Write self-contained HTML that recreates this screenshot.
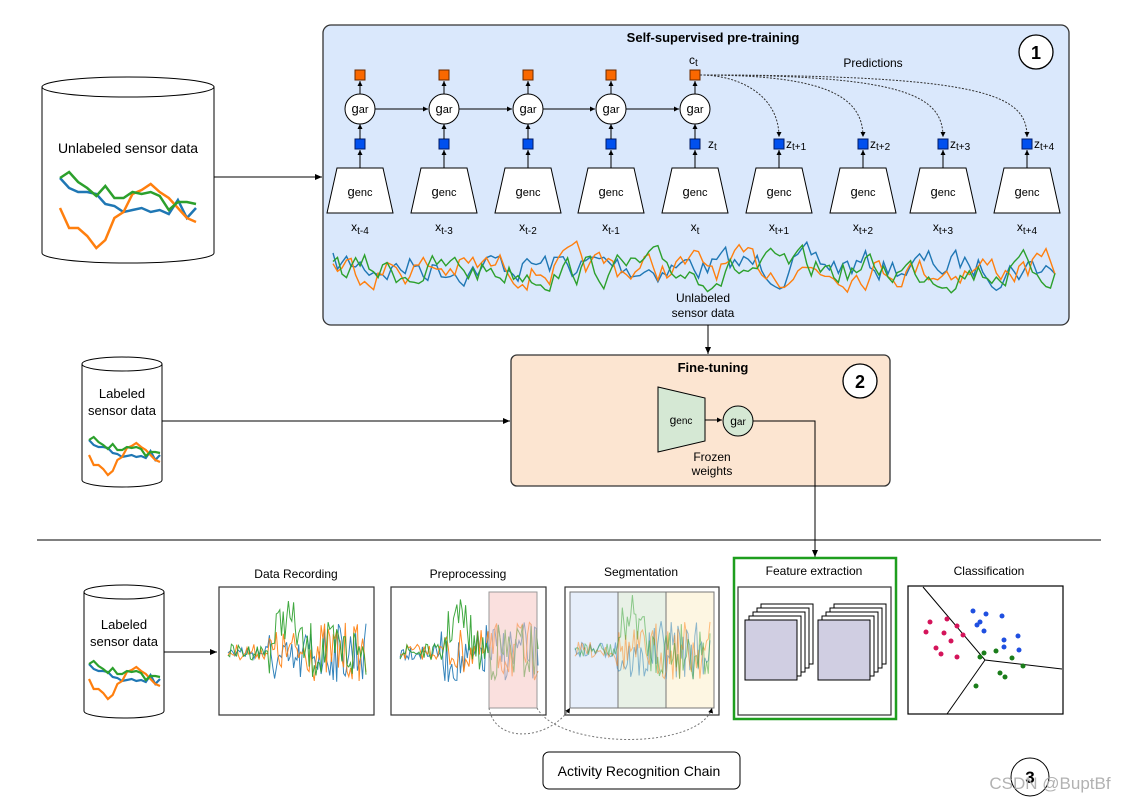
<!DOCTYPE html>
<html><head><meta charset="utf-8"><style>
body{margin:0;background:#fff}
svg{display:block;font-family:"Liberation Sans",Arial,sans-serif}
</style></head><body>
<svg id="s" width="1131" height="803" viewBox="0 0 1131 803" xmlns="http://www.w3.org/2000/svg">
<defs>
<marker id="a" markerWidth="8" markerHeight="8" refX="7" refY="4" orient="auto" markerUnits="userSpaceOnUse"><path d="M0,1 L7,4 L0,7 z" fill="#000"/></marker>
<marker id="as" markerWidth="6" markerHeight="6" refX="5" refY="3" orient="auto" markerUnits="userSpaceOnUse"><path d="M0,0.5 L5,3 L0,5.5 z" fill="#000"/></marker>
</defs>
<rect x="0" y="0" width="1131" height="803" fill="#fff"/>
<!-- top panel -->
<rect x="323" y="25" width="746" height="300" rx="8" fill="#dae8fc" stroke="#333" stroke-width="1.3"/>
<text x="713" y="42" font-size="13" font-weight="bold" text-anchor="middle">Self-supervised pre-training</text>
<circle cx="1036" cy="52" r="17" fill="#fff" stroke="#000" stroke-width="1.3"/>
<text x="1036" y="59" font-size="18" font-weight="bold" text-anchor="middle">1</text>
<text x="873" y="67" font-size="12" text-anchor="middle">Predictions</text>
<g id="top"></g>
<g id="wave1"></g>
<text x="703" y="302" font-size="12" text-anchor="middle">Unlabeled</text>
<text x="703" y="317" font-size="12" text-anchor="middle">sensor data</text>
<!-- left cylinder -->
<path d="M42,87 L42,253 A86,10 0 0 0 214,253 L214,87" fill="#fff" stroke="#000"/>
<ellipse cx="128" cy="87" rx="86" ry="10" fill="#fff" stroke="#000"/>
<text x="128" y="153" font-size="14" text-anchor="middle">Unlabeled sensor data</text>
<g id="cyl1"></g>
<line x1="214" y1="177" x2="322" y2="177" stroke="#000" marker-end="url(#a)"/>
<line x1="708" y1="325" x2="708" y2="354" stroke="#000" marker-end="url(#a)"/>
<!-- fine tuning -->
<rect x="511" y="355" width="379" height="131" rx="6" fill="#fce5d1" stroke="#333" stroke-width="1.3"/>
<text x="713" y="372" font-size="13" font-weight="bold" text-anchor="middle">Fine-tuning</text>
<circle cx="860" cy="381" r="17" fill="#fff" stroke="#000" stroke-width="1.3"/>
<text x="860" y="388" font-size="18" font-weight="bold" text-anchor="middle">2</text>
<path d="M658,387 L705,398 L705,441 L658,452 z" fill="#d5e8d4" stroke="#000"/>
<text x="681" y="424" font-size="12" text-anchor="middle">g<tspan font-size="10">enc</tspan></text>
<line x1="705" y1="420" x2="722" y2="420" stroke="#000" marker-end="url(#as)"/>
<circle cx="738" cy="421" r="15" fill="#d5e8d4" stroke="#000"/>
<text x="738" y="425" font-size="12" text-anchor="middle">g<tspan font-size="10">ar</tspan></text>
<text x="712" y="461" font-size="12" text-anchor="middle">Frozen</text>
<text x="712" y="475" font-size="12" text-anchor="middle">weights</text>
<polyline points="753,421 815,421 815,557" fill="none" stroke="#000" marker-end="url(#a)"/>
<!-- labeled cyl 2 -->
<path d="M82,364 L82,480 A40,7 0 0 0 162,480 L162,364" fill="#fff" stroke="#000"/>
<ellipse cx="122" cy="364" rx="40" ry="7" fill="#fff" stroke="#000"/>
<text x="122" y="398" font-size="13" text-anchor="middle">Labeled</text>
<text x="122" y="415" font-size="13" text-anchor="middle">sensor data</text>
<g id="cyl2"></g>
<line x1="162" y1="421" x2="510" y2="421" stroke="#000" marker-end="url(#a)"/>
<line x1="37" y1="540" x2="1101" y2="540" stroke="#000"/>
<!-- bottom -->
<path d="M84,592 L84,711 A40,7 0 0 0 164,711 L164,592" fill="#fff" stroke="#000"/>
<ellipse cx="124" cy="592" rx="40" ry="7" fill="#fff" stroke="#000"/>
<text x="124" y="629" font-size="13" text-anchor="middle">Labeled</text>
<text x="124" y="646" font-size="13" text-anchor="middle">sensor data</text>
<g id="cyl3"></g>
<line x1="164" y1="652" x2="217" y2="652" stroke="#000" marker-end="url(#a)"/>
<text x="296" y="578" font-size="12" text-anchor="middle">Data Recording</text>
<rect x="219" y="587" width="155" height="128" fill="#fff" stroke="#333" stroke-width="1.2"/>
<g id="dr"></g>
<text x="468" y="578" font-size="12" text-anchor="middle">Preprocessing</text>
<rect x="391" y="587" width="155" height="128" fill="#fff" stroke="#333" stroke-width="1.2"/>
<g id="pp"></g>
<rect x="489" y="592" width="48" height="116" fill="#f5c6c3" fill-opacity="0.55" stroke="#999"/>
<text x="641" y="576" font-size="12" text-anchor="middle">Segmentation</text>
<rect x="565" y="587" width="154" height="128" fill="#fff" stroke="#333" stroke-width="1.2"/>
<rect x="570" y="592" width="48" height="116" fill="#e6eefa" stroke="#777"/>
<rect x="618" y="592" width="48" height="116" fill="#e8f1e6" stroke="#777"/>
<rect x="666" y="592" width="48" height="116" fill="#fdf6e2" stroke="#777"/>
<g id="sg"></g>
<path d="M489,708 C495,745 550,740 570,708" fill="none" stroke="#777" stroke-dasharray="2,2" marker-end="url(#as)"/>
<path d="M537,708 C560,750 700,750 712,708" fill="none" stroke="#777" stroke-dasharray="2,2" marker-end="url(#as)"/>
<rect x="734" y="558" width="162" height="161" fill="#fff" stroke="#1e9e1e" stroke-width="2.5"/>
<text x="814" y="575" font-size="12" text-anchor="middle">Feature extraction</text>
<rect x="738" y="587" width="153" height="128" fill="#fff" stroke="#333" stroke-width="1.2"/>
<g id="fe"></g>
<text x="989" y="575" font-size="12" text-anchor="middle">Classification</text>
<rect x="908" y="586" width="155" height="128" fill="#fff" stroke="#000" stroke-width="1.2"/>
<polyline points="923,587 985,660 1062,669" fill="none" stroke="#000"/>
<line x1="985" y1="660" x2="947" y2="714" stroke="#000"/>
<g id="cl"></g>
<rect x="543" y="752" width="197" height="37" rx="6" fill="#fff" stroke="#000"/>
<text x="639" y="776" font-size="14" text-anchor="middle">Activity Recognition Chain</text>
<circle cx="1030" cy="777" r="19" fill="#fff" stroke="#000"/>
<text x="1030" y="783" font-size="17" font-weight="bold" text-anchor="middle">3</text>
<text x="1050" y="789" font-size="17" fill="#aaa" text-anchor="middle" opacity="0.9">CSDN @BuptBf</text>
</svg>
<script>
var NS="http://www.w3.org/2000/svg";
function el(p,t,a,txt){var e=document.createElementNS(NS,t);for(var k in a)e.setAttribute(k,a[k]);if(txt)e.textContent=txt;document.getElementById(p).appendChild(e);return e;}
var seed=7;function rnd(){seed=(seed*16807)%2147483647;return seed/2147483647;}
var xs=[360,444,528,611,695,779,863,943,1027];
var lbl=["t-4","t-3","t-2","t-1","t","t+1","t+2","t+3","t+4"];
xs.forEach(function(x,i){
 el("top","path",{d:"M"+(x-23)+",168 L"+(x+23)+",168 L"+(x+33)+",213 L"+(x-33)+",213 z",fill:"#fff",stroke:"#000"});
 var t=el("top","text",{x:x,y:196,"font-size":13,"text-anchor":"middle"});t.innerHTML='g<tspan font-size="11">enc</tspan>';
 var t2=el("top","text",{x:x,y:231,"font-size":12,"text-anchor":"middle"});t2.innerHTML='x<tspan font-size="10" dy="3">'+lbl[i]+'</tspan>';
 el("top","line",{x1:x,y1:168,x2:x,y2:150,stroke:"#000","marker-end":"url(#as)"});
 el("top","rect",{x:x-5,y:139,width:10,height:10,fill:"#0050ef",stroke:"#001a66"});
 if(i<5){
  el("top","line",{x1:x,y1:139,x2:x,y2:124,stroke:"#000","marker-end":"url(#as)"});
  el("top","circle",{cx:x,cy:109,r:15,fill:"#fff",stroke:"#000"});
  var g=el("top","text",{x:x,y:113,"font-size":13,"text-anchor":"middle"});g.innerHTML='g<tspan font-size="11">ar</tspan>';
  el("top","line",{x1:x,y1:94,x2:x,y2:81,stroke:"#000","marker-end":"url(#as)"});
  el("top","rect",{x:x-5,y:70,width:10,height:10,fill:"#fa6800",stroke:"#6b2a00"});
  if(i<4)el("top","line",{x1:x+15,y1:109,x2:xs[i+1]-16,y2:109,stroke:"#000","marker-end":"url(#as)"});
 } else {
  el("top","path",{d:"M700,75 C"+(x-40)+",75 "+x+",95 "+x+",137",fill:"none",stroke:"#333","stroke-dasharray":"2,1.5","marker-end":"url(#as)"});
  var z=el("top","text",{x:x+7,y:148,"font-size":12});z.innerHTML='z<tspan font-size="10" dy="2">'+lbl[i]+'</tspan>';
 }
});
var zt=el("top","text",{x:708,y:148,"font-size":12});zt.innerHTML='z<tspan font-size="10" dy="2">t</tspan>';
var ct=el("top","text",{x:689,y:64,"font-size":12});ct.innerHTML='c<tspan font-size="10" dy="2">t</tspan>';
var C=["#1f77b4","#ff7f0e","#2ca02c"];
function wave(p,x0,x1,yc,amp,n,w,op,spikes){
 C.forEach(function(c,ci){var pts=[],y=0;for(var i=0;i<=n;i++){var xx=x0+(x1-x0)*i/n;y=y*0.6+(rnd()-0.5)*amp;var a=amp;if(spikes)a=spikes(xx,ci);pts.push(xx.toFixed(1)+","+(yc+y*a/amp+ (ci-1)*2).toFixed(1));}
 el(p,"polyline",{points:pts.join(" "),fill:"none",stroke:c,"stroke-width":w,opacity:op});});
}
wave("wave1",333,1055,268,26,160,1.4,1);
// cylinder mini plots
function mini(p,x0,x1,y0,sc,w){
 var d=[[0,10,14,14,16,26,28,34,32,30,34,32,36,22,40,30],[30,50,50,58,70,62,40,34,16,12,6,14,20,30,40,44],[0,-6,4,10,18,8,20,20,14,16,14,18,32,24,24,26]];
 d.forEach(function(a,ci){var pts=a.map(function(v,i){return (x0+(x1-x0)*i/(a.length-1)).toFixed(1)+","+(y0+v*sc).toFixed(1)});
 el(p,"polyline",{points:pts.join(" "),fill:"none",stroke:C[ci],"stroke-width":w});});
}
mini("cyl1",60,196,178,1,2.5);
mini("cyl2",89,160,440,0.5,2.2);
mini("cyl3",89,160,664,0.5,2.2);
function sig(p,x0,x1,yc,op){
 C.forEach(function(c,ci){var pts=[],y=0;for(var i=0;i<=80;i++){var xx=x0+(x1-x0)*i/80;var t=i/80;var a=t<0.3?8:(t<0.6?22:30);y=(rnd()-0.5)*a*2;var off=0;if(ci==2&&t>0.3&&t<0.55)off=-35*Math.sin((t-0.3)/0.25*Math.PI);if(ci==0&&t>0.3&&t<0.55)off=10;
 pts.push(xx.toFixed(1)+","+(yc+y+off).toFixed(1));}
 el(p,"polyline",{points:pts.join(" "),fill:"none",stroke:c,"stroke-width":1,opacity:op});});
}
sig("dr",228,366,652,0.9);
sig("pp",400,538,652,0.9);
sig("sg",575,710,650,0.5);
// feature stacks
[745,818].forEach(function(x){for(var k=4;k>=0;k--){var o=k*4;el("fe","rect",{x:x+o,y:620-o,width:52,height:60,fill:k==0?"#d0cee2":"#fff",stroke:"#000"});}});
// classification dots
var pk=[[930,622],[947,619],[957,626],[926,632],[944,633],[951,641],[963,635],[941,654],[936,648],[957,657]];
var bl=[[973,611],[986,614],[1002,616],[977,625],[980,622],[984,631],[1004,640],[1018,636],[1004,647],[1019,650]];
var gr=[[980,657],[984,653],[996,651],[1012,658],[1023,666],[1000,673],[1005,677],[976,686]];
[[pk,"#d4145a"],[bl,"#1f4fe0"],[gr,"#1a7d1a"]].forEach(function(s){s[0].forEach(function(p){el("cl","circle",{cx:p[0],cy:p[1],r:2.5,fill:s[1]});});});
</script>
</body></html>
